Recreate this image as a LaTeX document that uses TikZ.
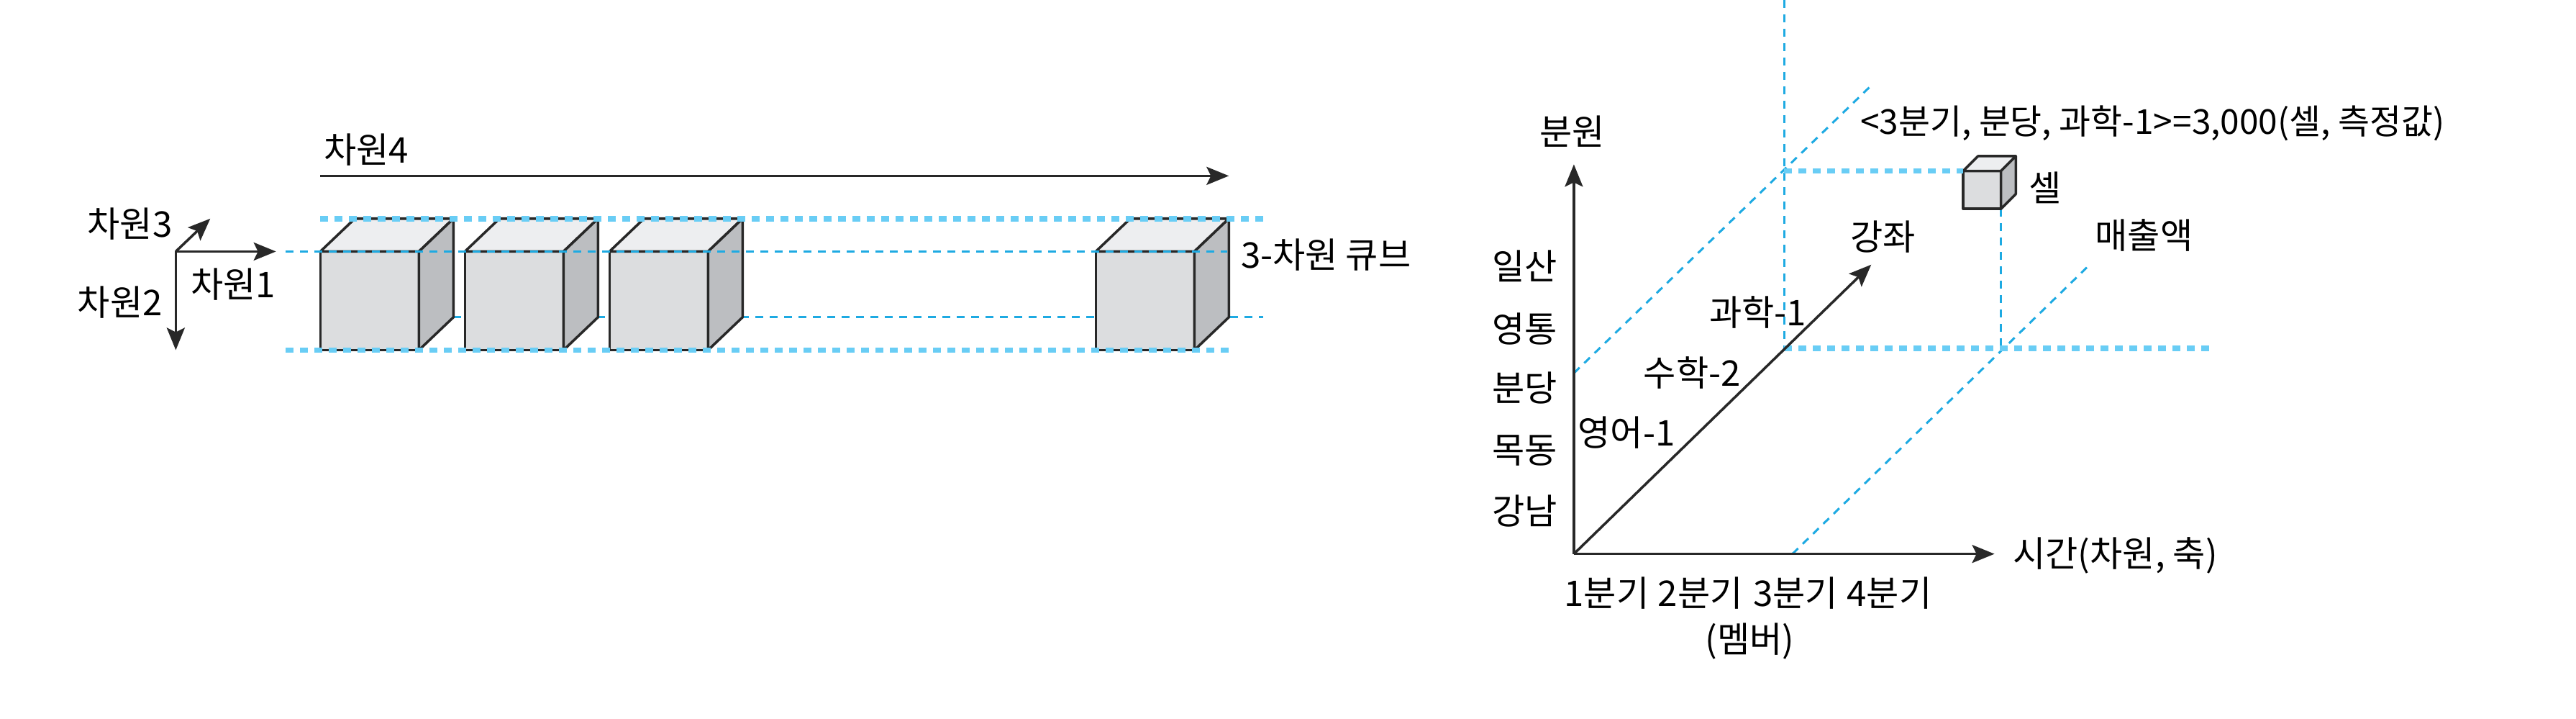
\documentclass[tikz,border=0pt]{standalone}
\usepackage{fontspec}
\setmainfont{Noto Sans CJK KR}
\usetikzlibrary{arrows.meta}

\definecolor{guide}{RGB}{30,170,226}
\definecolor{guidelt}{RGB}{105,205,245}
\definecolor{facefront}{RGB}{220,221,223}
\definecolor{facetop}{RGB}{237,238,240}
\definecolor{faceside}{RGB}{188,190,193}
\definecolor{edge}{RGB}{40,40,40}

\tikzset{
  axis/.style={-{Stealth[length=3.1mm,width=2.5mm,inset=0.6mm]}, line width=1pt, draw=edge},
  guidethin/.style={guide, line width=0.3mm, dash pattern=on 1.1mm off 0.9mm},
  guidethick/.style={guidelt, line width=0.75mm, dash pattern=on 1.1mm off 0.9mm},
  lbl/.style={font=\fontsize{14}{16}\selectfont, inner sep=0pt},
  cubeedge/.style={draw=edge, line width=1pt, line join=round},
}

\begin{document}
\begin{tikzpicture}[x=0.2284mm, y=-0.2284mm]
  \useasboundingbox (0,0) rectangle (1568,437);

  % Left: small axes
  \coordinate (ax0) at (107,153);
  \coordinate (ax1) at (168,153);
  \coordinate (ax2) at (107,213);
  \coordinate (ax3) at (128,133);
  \draw[axis] (ax0) -- (ax1);
  \draw[axis] (ax0) -- (ax2);
  \draw[axis] (ax0) -- (ax3);
  \node[lbl] (dimThree) at (79,136) {차원3};
  \node[lbl] (dimOne) at (142,173) {차원1};
  \node[lbl] (dimTwo) at (73,184) {차원2};

  % Dimension 4 arrow
  \coordinate (dimA) at (195,107);
  \coordinate (dimB) at (748,107);
  \draw[axis] (dimA) -- (dimB);
  \node[lbl] (dimFour) at (223,91) {차원4};

  % Guide lines of the cube row
  \coordinate (topL) at (195,133);
  \coordinate (topR) at (769,133);
  \coordinate (midL) at (174,153);
  \coordinate (midR) at (747,153);
  \coordinate (backL) at (276,193);
  \coordinate (backR) at (769,193);
  \coordinate (botL) at (174,213);
  \coordinate (botR) at (748,213);
  \draw[guidethin] (backL) -- (backR);

  % Cubes
  \foreach \cx in {195,283,371,667} {
    \filldraw[cubeedge, fill=facefront] (\cx,153) rectangle ++(60,60);
    \filldraw[cubeedge, fill=facetop] (\cx,153) -- ++(21,-20) -- ++(60,0) -- ++(-21,20) -- cycle;
    \filldraw[cubeedge, fill=faceside] (\cx+60,153) -- ++(21,-20) -- ++(0,60) -- ++(-21,20) -- cycle;
  }
  \draw[guidethick] (topL) -- (topR);
  \draw[guidethin] (midL) -- (midR);
  \draw[guidethick] (botL) -- (botR);
  \node[lbl, anchor=west] (cubeLbl) at (755,155) {3-차원 큐브};

  % Right: cube axes
  \coordinate (O) at (958,337);
  \coordinate (yTop) at (958,100);
  \coordinate (xEnd) at (1214,337);
  \coordinate (zEnd) at (1139,161);

  % Guides to the cell
  \coordinate (g1a) at (958,227);
  \coordinate (g1b) at (1139,52);
  \coordinate (g2a) at (1091,337);
  \coordinate (g2b) at (1272,161);
  \coordinate (v1a) at (1086,0);
  \coordinate (v1b) at (1086,212);
  \coordinate (h1b) at (1345,212);
  \coordinate (h2a) at (1086,104);
  \coordinate (cellTL) at (1195,104);
  \coordinate (cellBR) at (1218,127);
  \coordinate (v2b) at (1218,212);
  \draw[guidethin] (g1a) -- (g1b);
  \draw[guidethin] (g2a) -- (g2b);
  \draw[guidethin] (v1a) -- (v1b);
  \draw[guidethin] (cellBR) -- (v2b);
  \draw[guidethick] (v1b) -- (h1b);

  \draw[axis] (O) -- (yTop);
  \draw[axis] (O) -- (xEnd);
  \draw[axis] (O) -- (zEnd);

  % Cell
  \filldraw[cubeedge, fill=facefront] (cellTL) rectangle (cellBR);
  \filldraw[cubeedge, fill=facetop] (cellTL) -- ++(9,-9) -- ++(23,0) -- ++(-9,9) -- cycle;
  \filldraw[cubeedge, fill=faceside] (1218,104) -- ++(9,-9) -- ++(0,23) -- ++(-9,9) -- cycle;
  \draw[guidethick] (h2a) -- (cellTL);

  % Labels
  \node[lbl] (branch) at (957,80) {분원};
  \node[lbl, anchor=west, font=\fontsize{13.6}{16}\selectfont] (cellVal) at (1132,75) {<3분기, 분당, 과학-1>=3,000(셀, 측정값)};
  \node[lbl] (cellLbl) at (1245,114) {셀};
  \node[lbl] (course) at (1146,144) {강좌};
  \node[lbl] (sales) at (1305,143) {매출액};
  \foreach \name/\yy in {일산/162, 영통/200, 분당/236, 목동/274, 강남/311}
    \node[lbl] at (928,\yy) {\name};
  \node[lbl] (sci) at (1070,190) {과학-1};
  \node[lbl] (math) at (1030,227) {수학-2};
  \node[lbl] (eng) at (990,263) {영어-1};
  \foreach \q/\xx in {1/978, 2/1035, 3/1093, 4/1150}
    \node[lbl] at (\xx,361) {\q 분기};
  \node[lbl] (member) at (1065,390) {(멤버)};
  \node[lbl, anchor=west] (time) at (1225,338) {시간(차원, 축)};

\end{tikzpicture}
\end{document}
